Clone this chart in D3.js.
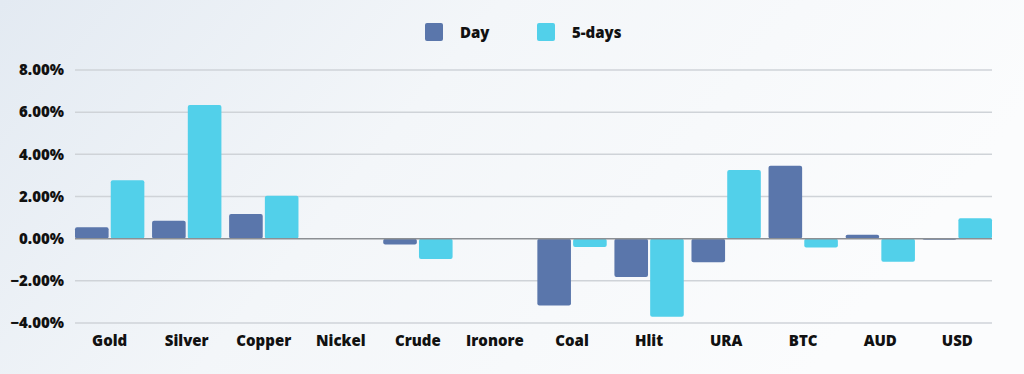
<!DOCTYPE html>
<html><head><meta charset="utf-8">
<script src="https://cdn.jsdelivr.net/npm/d3@7"></script>
<style>
html,body{margin:0;padding:0;}
body{width:1024px;height:374px;overflow:hidden;}
svg{display:block;font-family:"Open Sans",sans-serif;}
</style></head>
<body>
<svg id="chart" width="1024" height="374"></svg>
<script>
const categories = ["Gold","Silver","Copper","Nickel","Crude","Ironore","Coal","Hlit","URA","BTC","AUD","USD"];
const seriesNames = ["Day","5-days"];
const dayValues = [0.54,0.85,1.17,0,-0.28,0,-3.17,-1.82,-1.12,3.46,0.19,0.02];
const fiveDayValues = [2.77,6.34,2.04,0,-0.96,0,-0.39,-3.70,3.26,-0.42,-1.09,0.97];
const yTicks = [-4,-2,0,2,4,6,8];
const colors = ["#5a76ab","#52d0ea"];

const svg = d3.select("#chart");
const W = 1024, H = 374;
const defs = svg.append("defs");
const g1 = defs.append("linearGradient").attr("id","bg").attr("x1","0").attr("y1","0").attr("x2","1").attr("y2","0.3");
g1.append("stop").attr("offset","0").attr("stop-color","#e3eaf2");
g1.append("stop").attr("offset","0.45").attr("stop-color","#f3f6f9");
g1.append("stop").attr("offset","1").attr("stop-color","#fbfcfd");
svg.append("rect").attr("width",W).attr("height",H).attr("fill","url(#bg)");

const margin = {left:75, right:32, top:70, bottom:51};
const x0 = d3.scaleBand().domain(categories).range([margin.left, W-margin.right]).paddingInner(0.1).paddingOuter(0);
const x1 = d3.scaleBand().domain(seriesNames).range([0, x0.bandwidth()]).paddingInner(0.06);
const y = d3.scaleLinear().domain([-4,8]).range([323, 70]);

// grid
svg.append("g").selectAll("line").data(yTicks.filter(d=>d!==0)).join("line")
  .attr("x1", margin.left).attr("x2", 992)
  .attr("y1", d=>y(d)).attr("y2", d=>y(d))
  .attr("stroke","#cfd3d8").attr("stroke-width",1.5);

// y labels
svg.append("g").selectAll("text").data(yTicks).join("text")
  .attr("x", 64).attr("y", d=>y(d)).attr("dy","0.35em")
  .attr("text-anchor","end").attr("font-size",15).attr("font-weight",800).attr("fill","#111")
  .text(d=>d3.format(".2f")(d)+"%");

// bars
const data = categories.map((c,i)=>({cat:c, vals:[dayValues[i], fiveDayValues[i]]}));
const grp = svg.append("g").selectAll("g").data(data).join("g")
  .attr("transform", d=>`translate(${x0(d.cat)},0)`);
grp.selectAll("rect").data(d=>d.vals.map((v,j)=>({v, s:seriesNames[j], j}))).join("rect")
  .attr("x", d=>x1(d.s)).attr("width", x1.bandwidth())
  .attr("y", d=>Math.min(y(d.v), y(0)))
  .attr("height", d=>Math.max(Math.abs(y(d.v)-y(0)), d.v!==0?1.5:0))
  .attr("rx",2).attr("fill", d=>colors[d.j]);

// zero line
svg.append("line").attr("x1",margin.left).attr("x2",992).attr("y1",y(0)).attr("y2",y(0))
  .attr("stroke","#8c8f93").attr("stroke-width",1.5);

// x labels
svg.append("g").selectAll("text").data(categories).join("text")
  .attr("x", d=>x0(d)+x0.bandwidth()/2).attr("y", 346)
  .attr("text-anchor","middle").attr("font-size",15).attr("font-weight",800).attr("fill","#111")
  .text(d=>d);

// legend
const legX = [425, 537];
const leg = svg.append("g").selectAll("g").data(seriesNames).join("g")
  .attr("transform",(d,i)=>`translate(${legX[i]},23)`);
leg.append("rect").attr("width",18).attr("height",18).attr("rx",2).attr("fill",(d,i)=>colors[i]);
leg.append("text").attr("x",35).attr("y",14.5).attr("font-size",15).attr("font-weight",800).attr("fill","#111").text(d=>d);
</script>
</body></html>
